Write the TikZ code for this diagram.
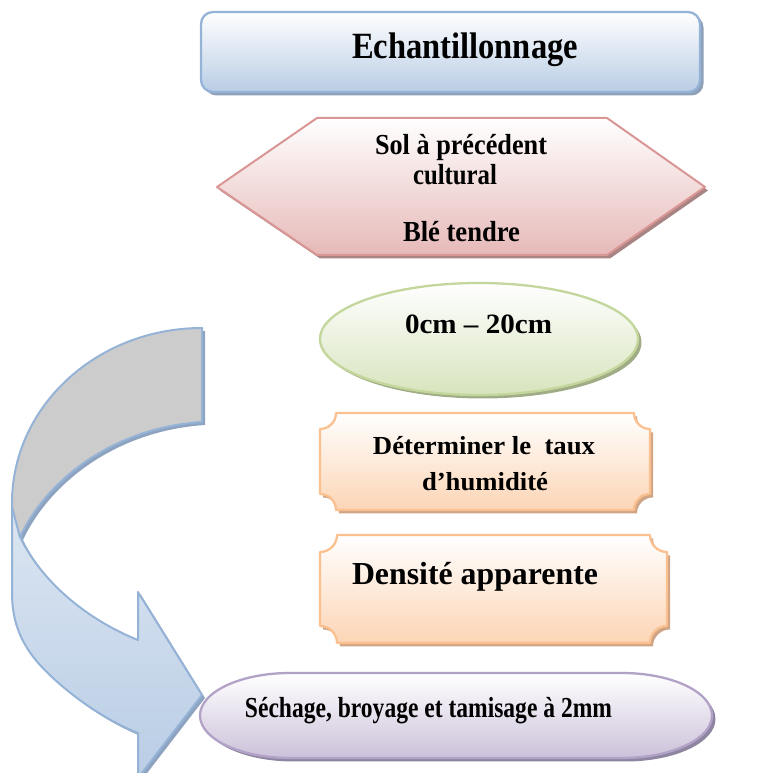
\documentclass[tikz,border=0pt]{standalone}
\usepackage{fontspec}
\setmainfont{Liberation Serif}
\usepackage{graphicx}
\usetikzlibrary{shapes.geometric,shadows}
\definecolor{tDraw}{HTML}{95B3D7}
\definecolor{tFill}{HTML}{B9CDE5}
\definecolor{tShad}{HTML}{8EA0B8}
\definecolor{hDraw}{HTML}{D99694}
\definecolor{hFill}{HTML}{E6B9B8}
\definecolor{hShad}{HTML}{A88584}
\definecolor{eDraw}{HTML}{C3D69B}
\definecolor{eFill}{HTML}{D7E4BD}
\definecolor{eShad}{HTML}{A0AC86}
\definecolor{pDraw}{HTML}{FAC090}
\definecolor{pFill}{HTML}{FCD5B5}
\definecolor{pShad}{HTML}{CFA585}
\definecolor{sDraw}{HTML}{B3A2C7}
\definecolor{sFill}{HTML}{CCC1DA}
\definecolor{sShad}{HTML}{8E86A0}
\definecolor{aGray}{HTML}{CCCCCC}
\definecolor{aTop}{HTML}{DCE6F2}
\definecolor{aShad}{HTML}{8EA3BF}
\newcommand\fitw[3]{\resizebox{#1pt}{\height}{\fontsize{#2pt}{#2pt}\selectfont\bfseries #3}}
\tikzset{
  txt/.style={anchor=base, inner sep=0pt, outer sep=0pt},
  myshadow/.style={drop shadow={shadow xshift=3.5pt, shadow yshift=-3.5pt, fill=#1, opacity=1}},
  shapebox/.style 2 args={draw=#1, line width=2.3pt, top color=white, bottom color=#2, line join=round},
}
\begin{document}
\begin{tikzpicture}[x=1pt,y=1pt]
\useasboundingbox (0,0) rectangle (776,773);
\clip (0,0) rectangle (776,773);

% ---- curved arrow ----
\def\bluepath{(12,270) -- (12,180) .. controls (12,150) and (22,128) .. (40,108)
  .. controls (62,84) and (100,55) .. (138,40) -- (138,-5) -- (202,78) -- (138,181) -- (138,133)
  .. controls (95,150) and (45,185) .. (20,236) -- cycle}
\def\graypath{(202,445) arc[start angle=90, end angle=180, x radius=190, y radius=175]
  -- (12,266) -- (20,236) .. controls (45,290) and (110,345) .. (202,351) -- cycle}
\fill[aShad, shift={(3pt,-3pt)}] \bluepath;
\draw[draw=tDraw, line width=2pt, top color=aTop, bottom color=tFill, line join=round] \bluepath;
\fill[aShad, shift={(3pt,-3pt)}] \graypath;
\draw[draw=tDraw, line width=2pt, fill=aGray, line join=round] \graypath;

% ---- title ----
\node[rectangle, rounded corners=12pt, minimum width=499pt, minimum height=80pt,
  shapebox={tDraw}{tFill}, myshadow=tShad] (title) at (450.5,721) {};
\node[txt] (titletext) at (465,714) {\fitw{226}{37}{Echantillonnage}};

% ---- hexagon ----
\def\hexpath{(217,586) -- (317,655) -- (607,655) -- (705,586) -- (607,518) -- (317,518) -- cycle}
\fill[hShad, shift={(3pt,-3.5pt)}] \hexpath;
\draw[shapebox={hDraw}{hFill}, line width=2pt] \hexpath;
\node[txt] (sol) at (461,618) {\fitw{172}{29}{Sol à précédent}};
\node[txt] (cult) at (455,588) {\fitw{84}{29}{cultural}};
\node[txt] (ble) at (461.5,531) {\fitw{117}{29}{Blé tendre}};

% ---- ellipse ----
\node[ellipse, minimum width=318pt, minimum height=112pt, inner sep=0pt,
  shapebox={eDraw}{eFill}, myshadow=eShad] (depth) at (479,434) {};
\node[txt] (depthtext) at (478.5,439) {\fitw{147}{28}{0cm – 20cm}};

% ---- plaques ----
\def\plaqueA{(336,360) -- (634,360) arc[start angle=180, end angle=270, radius=16]
  -- (650,279) arc[start angle=90, end angle=180, radius=16]
  -- (336,263) arc[start angle=0, end angle=90, radius=16]
  -- (320,344) arc[start angle=270, end angle=360, radius=16] -- cycle}
\def\plaqueB{(337,238) -- (650,238) arc[start angle=180, end angle=270, radius=17]
  -- (667,147) arc[start angle=90, end angle=180, radius=17]
  -- (337,130) arc[start angle=0, end angle=90, radius=17]
  -- (320,221) arc[start angle=270, end angle=360, radius=17] -- cycle}
\fill[pShad, shift={(3pt,-3.5pt)}] \plaqueA;
\draw[shapebox={pDraw}{pFill}] \plaqueA;
\fill[pShad, shift={(3pt,-3.5pt)}] \plaqueB;
\draw[shapebox={pDraw}{pFill}] \plaqueB;
\node[txt] (hum1) at (484,318) {\fitw{222}{26}{Déterminer le\ \ taux}};
\node[txt] (hum2) at (485,282) {\fitw{126}{26}{d’humidité}};
\node[txt] (dens) at (475,188) {\fitw{246}{32}{Densité apparente}};

% ---- bottom stadium ----
\def\stadpath{(290,100) -- (622,100) arc[start angle=90, end angle=0, x radius=90, y radius=42.5]
  arc[start angle=0, end angle=-90, x radius=90, y radius=42.5]
  -- (290,15) arc[start angle=270, end angle=180, x radius=90, y radius=42.5]
  arc[start angle=180, end angle=90, x radius=90, y radius=42.5] -- cycle}
\fill[sShad, shift={(3.5pt,-3.5pt)}] \stadpath;
\draw[shapebox={sDraw}{sFill}] \stadpath;
\node[txt] (sech) at (428.5,55) {\fitw{367}{29}{Séchage, broyage et tamisage à 2mm}};
\end{tikzpicture}
\end{document}
